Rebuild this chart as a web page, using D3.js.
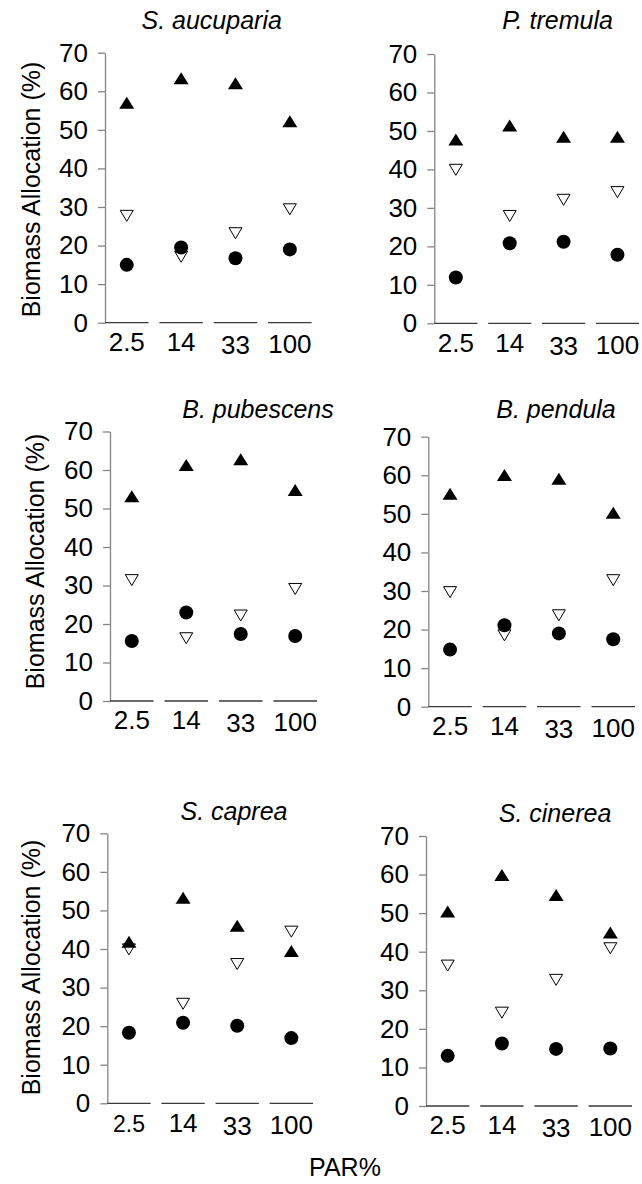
<!DOCTYPE html>
<html>
<head>
<meta charset="utf-8">
<script src="https://cdn.jsdelivr.net/npm/d3@7"></script>
<style>
  body { margin: 0; background: #fff; }
  svg text { font-family: "Liberation Sans", Arial, sans-serif; fill: #000; }
</style>
</head>
<body>
<svg id="chart" width="642" height="1184"></svg>
<script>
// PAR levels on the x axis
const categories = ["2.5", "14", "33", "100"];
// one panel per species
const species = ["S. aucuparia", "P. tremula", "B. pubescens", "B. pendula", "S. caprea", "S. cinerea"];
const yTicks = [0, 10, 20, 30, 40, 50, 60, 70];

// biomass allocation (%) per species, one value per PAR level
const filledTriangle = [
  [57.0, 63.4, 62.1, 52.2],
  [47.8, 51.4, 48.5, 48.5],
  [53.2, 61.3, 62.8, 54.8],
  [55.2, 60.1, 59.1, 50.3],
  [41.9, 53.3, 46.0, 39.5],
  [50.4, 59.9, 54.7, 45.0]
];
const openTriangle = [
  [27.7, 17.1, 23.2, 29.4],
  [39.9, 27.9, 32.1, 34.1],
  [31.4, 16.3, 22.2, 29.1],
  [29.7, 18.5, 23.7, 32.8],
  [39.9, 25.8, 36.1, 44.5],
  [36.4, 24.2, 32.7, 40.9]
];
const filledCircle = [
  [15.0, 19.5, 16.7, 19.0],
  [11.9, 20.8, 21.2, 17.8],
  [15.6, 23.0, 17.4, 16.9],
  [14.8, 21.1, 19.0, 17.5],
  [18.3, 20.9, 20.1, 16.9],
  [13.0, 16.2, 14.8, 14.9]
];

// plot frame of each panel: left/right of the category bands, bottom/top of the value range
const frames = [
  { left: 105.0, right: 311.6, bottom: 322.7, top: 52.7,  titleX: 211.7, titleY: 29,  yLabel: [31, 189.5] },
  { left: 434.3, right: 639.0, bottom: 323.3, top: 54.0,  titleX: 557.5, titleY: 29,  yLabel: null },
  { left: 110.0, right: 317.0, bottom: 701.0, top: 431.5, titleX: 258.0, titleY: 418, yLabel: [35, 561.5] },
  { left: 428.3, right: 635.0, bottom: 706.7, top: 436.7, titleX: 556.0, titleY: 418, yLabel: null },
  { left: 107.3, right: 313.0, bottom: 1103.3, top: 833.3, titleX: 234.0, titleY: 820, yLabel: [31.5, 967.5] },
  { left: 426.0, right: 632.0, bottom: 1106.0, top: 836.0, titleX: 555.0, titleY: 822, yLabel: null }
];
// small vertical shifts of the PAR tick labels
const labelDrop = [0, 0, 3, 2];

const svg = d3.select("#chart");

const upTri = (w, h) => `M0,${-h / 2}L${w / 2},${h / 2}L${-w / 2},${h / 2}Z`;
const downTri = (w, h) => `M0,${h / 2}L${w / 2},${-h / 2}L${-w / 2},${-h / 2}Z`;

species.forEach((name, i) => {
  const f = frames[i];
  const g = svg.append("g");

  const x = d3.scaleBand().domain(categories).range([f.left, f.right])
    .paddingInner(0.2).paddingOuter(0).align(0);
  const y = d3.scaleLinear().domain([0, 70]).range([f.bottom, f.top]);
  const cx = c => x(c) + x.bandwidth() / 2;

  // value axis
  const yAxis = g.append("g")
    .attr("transform", `translate(${f.left},0)`)
    .call(d3.axisLeft(y).tickValues(yTicks).tickSize(7).tickSizeOuter(0).tickPadding(10));
  yAxis.select(".domain").attr("stroke", "#858585").attr("stroke-width", 1.3);
  yAxis.selectAll(".tick line").attr("stroke", "#858585").attr("stroke-width", 1.3);
  yAxis.selectAll(".tick text").style("font-size", "26px").attr("fill", "#000");

  // one baseline segment under each PAR level
  g.append("g").selectAll("line").data(categories).join("line")
    .attr("x1", c => x(c)).attr("x2", c => x(c) + x.bandwidth())
    .attr("y1", f.bottom).attr("y2", f.bottom)
    .attr("stroke", "#3a3a3a").attr("stroke-width", 1.3);

  // PAR tick labels
  const xAxis = g.append("g")
    .attr("transform", `translate(0,${f.bottom})`)
    .call(d3.axisBottom(x).tickSize(0).tickPadding(10));
  xAxis.select(".domain").remove();
  xAxis.selectAll(".tick")
    .attr("transform", c => `translate(${cx(c)},0)`);
  const small = (k) => i === 4 && k === 0;
  xAxis.selectAll(".tick text")
    .style("font-size", (c, k) => small(k) ? "23px" : "26px")
    .attr("y", (c, k) => 10 + labelDrop[k] + (small(k) ? 2 : 0))
    .attr("fill", "#000");

  // species title
  g.append("text")
    .attr("x", f.titleX).attr("y", f.titleY)
    .attr("text-anchor", "middle")
    .style("font-size", "25px").style("font-style", "italic")
    .text(name);

  if (f.yLabel) {
    g.append("text")
      .attr("transform", `translate(${f.yLabel[0]},${f.yLabel[1]}) rotate(-90)`)
      .attr("text-anchor", "middle").attr("dy", "0.35em")
      .style("font-size", "25px")
      .text("Biomass Allocation (%)");
  }

  // markers
  g.append("g").selectAll("path").data(openTriangle[i]).join("path")
    .attr("d", downTri(13, 11))
    .attr("transform", (v, k) => `translate(${cx(categories[k])},${y(v)})`)
    .attr("fill", "#fff").attr("stroke", "#000").attr("stroke-width", 1);

  g.append("g").selectAll("circle").data(filledCircle[i]).join("circle")
    .attr("cx", (v, k) => cx(categories[k])).attr("cy", v => y(v))
    .attr("r", 7).attr("fill", "#000");

  g.append("g").selectAll("path").data(filledTriangle[i]).join("path")
    .attr("d", upTri(15, 12))
    .attr("transform", (v, k) => `translate(${cx(categories[k])},${y(v)})`)
    .attr("fill", "#000");
});

// shared x-axis title
svg.append("text")
  .attr("x", 345).attr("y", 1176)
  .attr("text-anchor", "middle")
  .style("font-size", "25px")
  .text("PAR%");
</script>
</body>
</html>
